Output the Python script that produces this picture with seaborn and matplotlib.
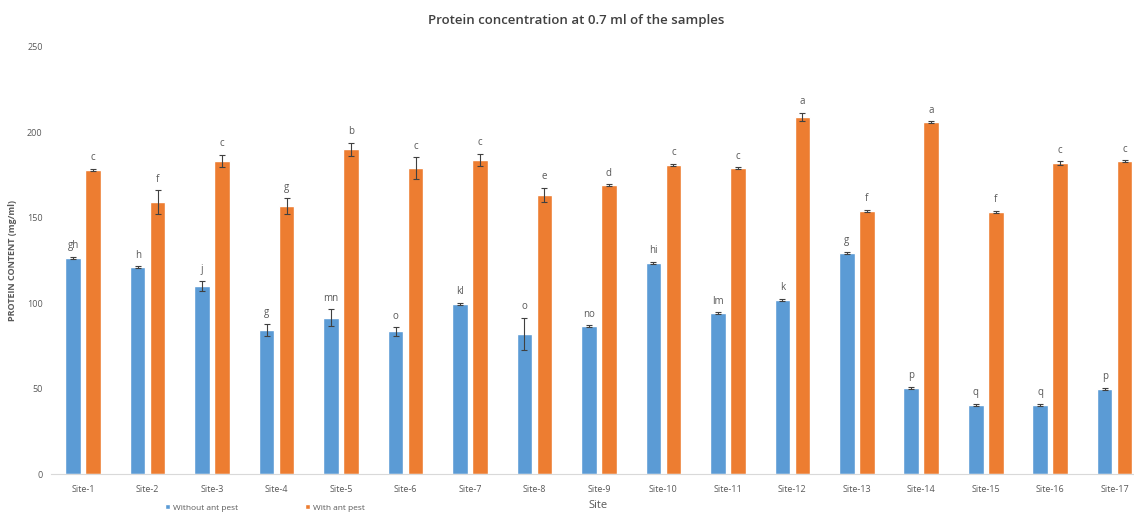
import matplotlib
matplotlib.use("Agg")
import matplotlib.pyplot as plt
import seaborn as sns
import pandas as pd

sites = [f"Site-{i}" for i in range(1, 18)]

without_pest = [126.5, 121, 110, 84.5, 91.5, 83.5, 99.5, 82, 86.5, 123.5,
                94, 102, 129.5, 50.5, 40.5, 40.5, 50]
without_err = [0.6, 0.6, 3, 3.5, 5, 2.5, 0.6, 9.5, 0.6, 0.6,
               0.6, 0.6, 0.6, 0.6, 0.6, 0.6, 0.6]
without_letters = ["gh", "h", "j", "g", "mn", "o", "kl", "o", "no", "hi",
                   "lm", "k", "g", "p", "q", "q", "p"]

with_pest = [178, 159, 183.5, 157, 190, 179, 184, 163.5, 169, 181,
             179, 209, 154, 206, 153.5, 182, 183]
with_err = [0.6, 7, 3.5, 4.5, 4, 6.5, 3.5, 4, 0.6, 0.6,
            0.6, 2.5, 0.6, 0.6, 0.6, 1, 0.6]
with_letters = ["c", "f", "c", "g", "b", "c", "c", "e", "d", "c",
                "c", "a", "f", "a", "f", "c", "c"]

groups = ["Without ant pest", "With ant pest"]
colors = ["#5B9BD5", "#ED7D31"]
yticks = [0, 50, 100, 150, 200, 250]

df = pd.DataFrame({
    "Site": sites * 2,
    "Protein": without_pest + with_pest,
    "Group": [groups[0]] * len(sites) + [groups[1]] * len(sites),
})
errs = {groups[0]: without_err, groups[1]: with_err}
letters = {groups[0]: without_letters, groups[1]: with_letters}

sns.set_theme(style="white")
plt.rcParams["font.family"] = ["Open Sans", "DejaVu Sans"]
text_color = "#595959"

fig = plt.figure(figsize=(11.34, 5.13), dpi=100)
ax = fig.add_axes([51 / 1134, 39 / 513, 1083 / 1134, 427 / 513])

sns.barplot(data=df, x="Site", y="Protein", hue="Group", order=sites,
            hue_order=groups, palette=colors, width=0.62, gap=0.22,
            errorbar=None, saturation=1, ax=ax)

# error bars and significance letters on each bar
for container, grp in zip(ax.containers, groups):
    for bar in container:
        cx = bar.get_x() + bar.get_width() / 2
        idx = int(round(cx))
        h = bar.get_height()
        e = errs[grp][idx]
        ax.errorbar(cx, h, yerr=e, fmt="none", ecolor="#404040",
                    elinewidth=0.8, capsize=2.5, capthick=0.8)
        ax.annotate(letters[grp][idx], (cx, h + e), xytext=(0, 4),
                    textcoords="offset points", ha="center", va="bottom",
                    fontsize=7, color=text_color)

ax.set_ylim(0, 250)
ax.set_xlim(-0.5, 16.3)
ax.set_yticks(yticks)
ax.set_yticklabels([str(v) for v in yticks])
ax.tick_params(axis="both", length=0, labelsize=6.5, colors=text_color)
ax.tick_params(axis="y", pad=6)
ax.tick_params(axis="x", pad=8)

for side in ["left", "right", "top"]:
    ax.spines[side].set_visible(False)
ax.spines["bottom"].set_color("#D9D9D9")
ax.spines["bottom"].set_linewidth(0.8)

ax.set_xlabel("Site", fontsize=8, color=text_color, va="center")
ax.xaxis.set_label_coords((598 - 51) / 1083, -(505 - 474) / 427)
ax.set_ylabel("PROTEIN CONTENT (mg/ml)", fontsize=6.5, color=text_color,
              fontweight="bold")
ax.yaxis.set_label_coords((17 - 51) / 1083, 0.5)
fig.text(0.508, 0.96, "Protein concentration at 0.7 ml of the samples",
         ha="center", va="center", fontsize=9.5, fontweight="semibold",
         color="#404040")

leg = ax.legend(loc="center left", bbox_to_anchor=(165 / 1134, 1 - 508 / 513),
                bbox_transform=fig.transFigure, ncol=2, frameon=False,
                fontsize=6, handlelength=0.6, handleheight=0.6,
                columnspacing=8, handletextpad=0.4, borderaxespad=0,
                borderpad=0)
for t in leg.get_texts():
    t.set_color(text_color)

fig.savefig("out.png", dpi=100)
